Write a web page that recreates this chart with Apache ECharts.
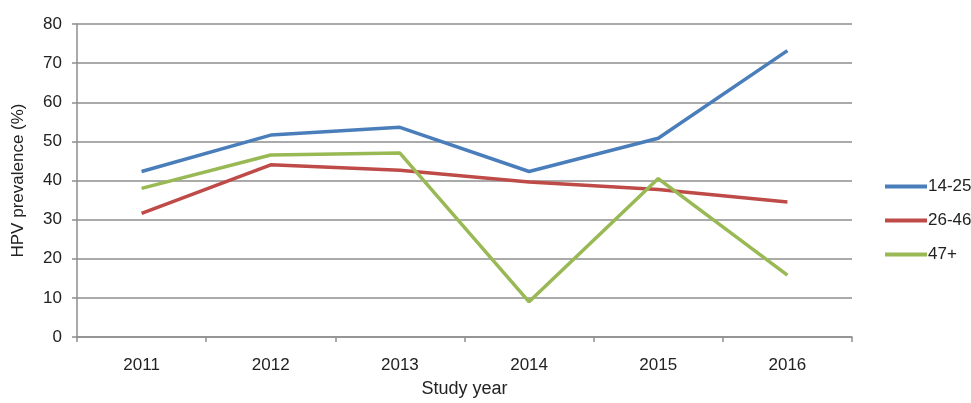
<!DOCTYPE html>
<html>
<head>
<meta charset="utf-8">
<script src="https://cdn.jsdelivr.net/npm/echarts@6/dist/echarts.min.js"></script>
<style>
  html, body { margin: 0; padding: 0; background: #fff; }
  #chart { width: 971px; height: 403px; }
</style>
</head>
<body>
<div id="chart"></div>
<script>
// Study years on the category axis
const years = ['2011', '2012', '2013', '2014', '2015', '2016'];
// HPV prevalence (%) by age group
const age14to25 = [42.3, 51.6, 53.6, 42.3, 50.8, 73.2];
const age26to46 = [31.6, 44.0, 42.6, 39.6, 37.7, 34.5];
const age47plus = [38.0, 46.5, 47.0, 9.0, 40.5, 15.8];
const seriesNames = ['14-25', '26-46', '47+'];
const yTicks = { min: 0, max: 80, interval: 10 };

const font = 'Liberation Sans, Arial, sans-serif';
const textColor = '#222';
const gridColor = '#8e8e8e';

const chart = echarts.init(document.getElementById('chart'));

const makeSeries = (name, data, color) => ({
  name, type: 'line', data,
  symbol: 'none',
  lineStyle: { color, width: 3.5 },
  itemStyle: { color },
  emphasis: { disabled: true }
});

chart.setOption({
  animation: false,
  grid: { left: 77, right: 119, top: 24, bottom: 62 },
  legend: {
    orient: 'vertical',
    left: 880,
    top: 173,
    itemWidth: 42,
    itemHeight: 4,
    itemGap: 17,
    icon: 'rect',
    textStyle: { fontFamily: font, fontSize: 17, color: textColor, padding: [0, 0, 0, -4] },
    data: seriesNames
  },
  xAxis: {
    type: 'category',
    data: years,
    boundaryGap: true,
    name: 'Study year',
    nameLocation: 'middle',
    nameGap: 43,
    nameTextStyle: { fontFamily: font, fontSize: 18, color: textColor },
    axisLine: { lineStyle: { color: gridColor, width: 1.5 } },
    axisTick: { show: true, length: 5, lineStyle: { color: gridColor, width: 1.5 } },
    axisLabel: { fontFamily: font, fontSize: 17, color: textColor, margin: 20 }
  },
  yAxis: {
    type: 'value',
    min: yTicks.min,
    max: yTicks.max,
    interval: yTicks.interval,
    name: 'HPV prevalence (%)',
    nameLocation: 'middle',
    nameGap: 50,
    nameRotate: 90,
    nameTextStyle: { fontFamily: font, fontSize: 17, color: textColor },
    axisLine: { show: true, lineStyle: { color: gridColor, width: 1.5 } },
    axisTick: { show: true, length: 5, lineStyle: { color: gridColor, width: 1.5 } },
    axisLabel: { fontFamily: font, fontSize: 17, color: textColor, margin: 15 },
    splitLine: { lineStyle: { color: gridColor, width: 1.5 } }
  },
  series: [
    makeSeries(seriesNames[0], age14to25, '#4A7EBB'),
    makeSeries(seriesNames[1], age26to46, '#BE4B48'),
    makeSeries(seriesNames[2], age47plus, '#98B954')
  ]
});
</script>
</body>
</html>
